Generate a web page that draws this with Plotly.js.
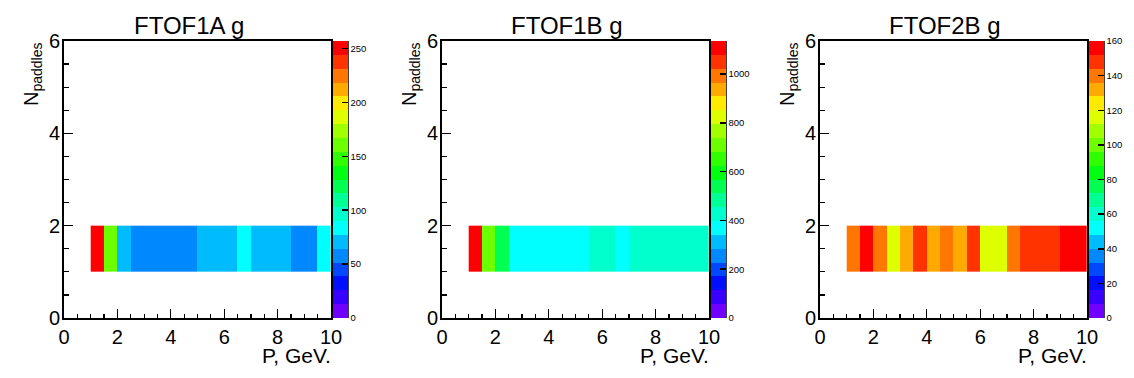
<!DOCTYPE html>
<html>
<head>
<meta charset="utf-8">
<script src="https://cdn.plot.ly/plotly-3.0.1.min.js"></script>
<style>html,body{margin:0;padding:0;background:#fff;}#chart{width:1134px;height:378px;}</style>
</head>
<body>
<div id="chart"></div>
<script>
// ---- data ----
const P_EDGES = [1, 1.5, 2, 2.5, 3, 3.5, 4, 4.5, 5, 5.5, 6, 6.5, 7, 7.5, 8, 8.5, 9, 9.5, 10];
const NPADDLE_EDGES = [1, 2];
const FTOF1A_G = [257, 160, 70, 58, 57, 58, 58, 57, 70, 70, 71, 84, 70, 71, 70, 58, 58, 84];
const FTOF1B_G = [1135, 710, 540, 370, 372, 370, 368, 371, 370, 425, 426, 372, 424, 425, 427, 425, 424, 426];
const FTOF2B_G = [140, 160, 140, 116, 132, 148, 132, 140, 132, 148, 116, 117, 140, 148, 149, 148, 156, 158];
const PANEL_TITLES = ['FTOF1A g', 'FTOF1B g', 'FTOF2B g'];
const CB_DTICK = [50, 200, 20];
const X_TITLE = 'P, GeV.';
const Y_TITLE = 'N<sub>paddles</sub>';

// ---- style ----
const W = 1134, H = 378;
const PALETTE = ['#7000ff', '#3a00ff', '#0010ff', '#0048ff', '#0088ff', '#00bcff', '#00ffff', '#00ffcc',
                 '#00ff95', '#00ff50', '#00ff10', '#30ff00', '#6cff00', '#a0ff00', '#ddff00', '#ffea00',
                 '#ffaa00', '#ff7700', '#ff3300', '#ff0000'];
const colorscale = [];
PALETTE.forEach((c, i) => { colorscale.push([i / PALETTE.length, c]); colorscale.push([(i + 1) / PALETTE.length, c]); });

const FONT = 'Liberation Sans, Arial, Helvetica, sans-serif';
const plotTop = 41, plotBottom = 318;
const panelLeft = [64, 442, 820];
const panelRight = [331, 709, 1087];
const yDom = [(H - plotBottom) / H, (H - plotTop) / H];
const series = [FTOF1A_G, FTOF1B_G, FTOF2B_G];

const data = [];
const layout = {
  width: W, height: H,
  margin: {l: 0, r: 0, t: 0, b: 0},
  paper_bgcolor: '#fff', plot_bgcolor: '#fff',
  showlegend: false,
  font: {family: FONT, color: '#000'},
  annotations: [], shapes: []
};

series.forEach((z, i) => {
  const sfx = i === 0 ? '' : String(i + 1);
  const zmax = Math.max(...z);
  data.push({
    type: 'heatmap',
    x: P_EDGES, y: NPADDLE_EDGES, z: [z],
    xaxis: 'x' + sfx, yaxis: 'y' + sfx,
    zmin: 0, zmax: zmax,
    colorscale: colorscale,
    hoverinfo: 'x+y+z',
    colorbar: {
      x: (panelRight[i] + 2) / W, xanchor: 'left', xref: 'paper',
      y: yDom[0], yanchor: 'bottom',
      len: yDom[1] - yDom[0], lenmode: 'fraction',
      thickness: 15, thicknessmode: 'pixels',
      xpad: 0, ypad: 0, outlinewidth: 0,
      ticks: 'inside', ticklen: 6, tickwidth: 1.5, tickcolor: '#000',
      tick0: 0, dtick: CB_DTICK[i],
      tickfont: {family: FONT, size: 9.5, color: '#000'},
      ticklabelposition: 'outside'
    }
  });
  const ax = {
    domain: [panelLeft[i] / W, panelRight[i] / W],
    range: [0, 10], dtick: 2, tick0: 0,
    ticks: 'inside', ticklen: 9, tickwidth: 1.2, tickcolor: '#000',
    minor: {ticks: 'inside', dtick: 0.5, ticklen: 4.5, tickwidth: 1.2, tickcolor: '#000'},
    showline: true, linecolor: '#000', linewidth: 2, mirror: true,
    showgrid: false, zeroline: false,
    tickfont: {family: FONT, size: 20, color: '#000'},
    anchor: 'y' + sfx
  };
  const ay = {
    domain: yDom,
    range: [0, 6], dtick: 2, tick0: 0,
    ticks: 'inside', ticklen: 9, tickwidth: 1.2, tickcolor: '#000',
    minor: {ticks: 'inside', dtick: 0.5, ticklen: 4.5, tickwidth: 1.2, tickcolor: '#000'},
    showline: true, linecolor: '#000', linewidth: 2, mirror: true,
    showgrid: false, zeroline: false,
    tickfont: {family: FONT, size: 20, color: '#000'},
    ticklabelstandoff: -2,
    anchor: 'x' + sfx
  };
  layout['xaxis' + sfx] = ax;
  layout['yaxis' + sfx] = ay;

  const off = i * 378;
  // panel title
  layout.annotations.push({
    text: PANEL_TITLES[i], xref: 'paper', yref: 'paper',
    x: (off + 189) / W, y: 1 - 25 / H, xanchor: 'center', yanchor: 'middle',
    showarrow: false, font: {family: FONT, size: 24, color: '#000'}
  });
  // x title
  layout.annotations.push({
    text: X_TITLE, xref: 'paper', yref: 'paper',
    x: (panelRight[i] + 1) / W, y: (H - 355) / H, xanchor: 'right', yanchor: 'middle',
    showarrow: false, font: {family: FONT, size: 21, color: '#000'}, borderpad: 0
  });
  // y title
  layout.annotations.push({
    text: Y_TITLE, xref: 'paper', yref: 'paper', textangle: -90,
    x: (off + 32) / W, y: (H - plotTop) / H, xanchor: 'center', yanchor: 'top',
    showarrow: false, font: {family: FONT, size: 20, color: '#000'}, borderpad: 0
  });
  // colorbar axis line on right edge
  layout.shapes.push({
    type: 'line', xref: 'paper', yref: 'paper',
    x0: (panelRight[i] + 17) / W, x1: (panelRight[i] + 17) / W,
    y0: yDom[0], y1: yDom[1], line: {color: '#000', width: 1.5}
  });
});

Plotly.newPlot('chart', data, layout, {displayModeBar: false, staticPlot: true});
</script>
</body>
</html>
